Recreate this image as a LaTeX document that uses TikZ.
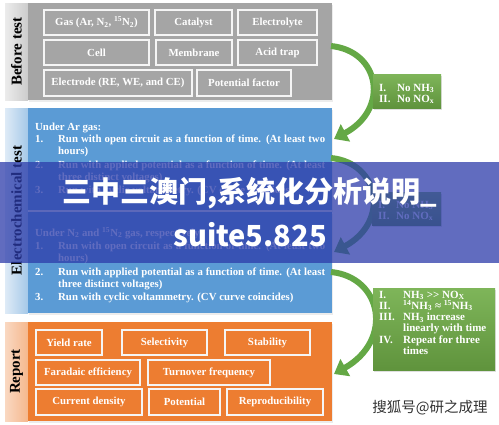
\documentclass[tikz,border=0pt]{standalone}
\usepackage{fontspec}
\setmainfont{Liberation Serif}
\newfontfamily\cjk{Noto Sans CJK SC}
\usetikzlibrary{arrows.meta,shadows,calc}
\definecolor{secgray}{HTML}{A5A5A5}
\definecolor{secblue}{HTML}{5B9BD5}
\definecolor{secorange}{HTML}{ED7D31}
\definecolor{cgreen}{HTML}{70AD47}
\definecolor{agreen}{HTML}{64A845}
\definecolor{bannerblue}{RGB}{45,60,170}
\newcommand\ibx[6]{\node[ibox, minimum width={(#4-#2)*1pt}, minimum height={(#5-#3)*1pt}] (#1) at ({(#2+#4)/2},{(#3+#5)/2}) {#6};}
\begin{document}
\begin{tikzpicture}[x=1pt,y=-1pt,
  sec/.style={anchor=north west, inner sep=0, outer sep=0, drop shadow={opacity=0.15,shadow xshift=0.5pt,shadow yshift=-1.5pt}},
  tab/.style={anchor=north west, inner sep=0, outer sep=0},
  tablabel/.style={rotate=90, font=\fontsize{15}{15}\selectfont\bfseries, text=black},
  ibox/.style={draw=white!92!gray, line width=1.2pt, text=white, font=\fontsize{10.8}{12}\selectfont\bfseries, inner sep=0},
  btxt/.style={anchor=base west, text=white, font=\fontsize{10.8}{12}\selectfont\bfseries, inner sep=0},
  callout/.style={anchor=north west, inner sep=0, top color=cgreen!90!white, bottom color=cgreen!85!black, drop shadow={opacity=0.25,shadow xshift=1pt,shadow yshift=-1.5pt}},
  ctxt/.style={anchor=base west, text=white, font=\fontsize{11}{11}\selectfont\bfseries, inner sep=0},
  garrow/.style={draw=agreen, line width=6pt, -{Triangle[length=13pt,width=19pt]}},
]
\useasboundingbox (0,0) rectangle (499,424);
\fill[white] (0,0) rectangle (499,424);

% ---------- Before test ----------
\node[tab, minimum width=23pt, minimum height=97pt, left color=gray!15, right color=gray!40] (tab1) at (5,3) {};
\node[sec, fill=secgray, minimum width=304pt, minimum height=97pt] (before) at (28,3) {};
\node[tablabel] (lab1) at (tab1.center) {Before test};
\ibx{gas}{44}{10}{149}{35}{Gas (Ar, N\textsubscript{2}, \textsuperscript{15}N\textsubscript{2})}
\ibx{cat}{155}{10}{232}{35}{Catalyst}
\ibx{ely}{238}{10}{317}{35}{Electrolyte}
\ibx{cell}{44}{40}{149}{65}{Cell}
\ibx{mem}{156}{40}{232}{65}{Membrane}
\ibx{acid}{238}{40}{317}{65}{Acid trap}
\ibx{elec}{44}{70}{192}{96}{Electrode (RE, WE, and CE)}
\ibx{pot}{197}{70}{291}{96}{Potential factor}

% ---------- Electrochemical test ----------
\node[tab, minimum width=23pt, minimum height=205pt, left color=secblue!20, right color=secblue!55] (tab2) at (5,108) {};
\node[sec, fill=secblue, minimum width=304pt, minimum height=102pt] (echA) at (28,108) {};
\node[sec, fill=secblue, minimum width=304pt, minimum height=101pt] (echB) at (28,212) {};
\node[tablabel] (lab2) at (tab2.center) {Electrochemical test};

\node[btxt] (a0) at (35,130) {Under Ar gas:};
\node[btxt] (a1n) at (35,142) {1.};
\node[btxt] (a1) at (58,142) {\makebox[267pt][s]{Run with open circuit as a function of time. (At least two}};
\node[btxt] (a1b) at (58,154) {hours)};
\node[btxt] (a2n) at (35,168) {2.};
\node[btxt] (a2) at (58,168) {\makebox[267pt][s]{Run with applied potential as a function of time. (At least}};
\node[btxt] (a2b) at (58,180) {three distinct voltages)};
\node[btxt] (a3n) at (35,193) {3.};
\node[btxt] (a3) at (58,193) {Run with cyclic voltammetry. (CV curve coincides)};

\node[btxt] (b0) at (35,236) {Under N\textsubscript{2} and \textsuperscript{15}N\textsubscript{2} gas, respectively:};
\node[btxt] (b1n) at (35,249) {1.};
\node[btxt] (b1) at (58,249) {\makebox[267pt][s]{Run with open circuit as a function of time. (At least two}};
\node[btxt] (b1b) at (58,261) {hours)};
\node[btxt] (b2n) at (35,275) {2.};
\node[btxt] (b2) at (58,275) {\makebox[267pt][s]{Run with applied potential as a function of time. (At least}};
\node[btxt] (b2b) at (58,287) {three distinct voltages)};
\node[btxt] (b3n) at (35,300) {3.};
\node[btxt] (b3) at (58,300) {Run with cyclic voltammetry. (CV curve coincides)};

% ---------- Report ----------
\node[tab, minimum width=23pt, minimum height=99pt, left color=secorange!30, right color=secorange!55] (tab3) at (5,322) {};
\node[sec, fill=secorange, minimum width=304pt, minimum height=99pt] (report) at (28,322) {};
\node[tablabel] (lab3) at (tab3.center) {Report};
\ibx{yield}{36}{330}{102}{355}{Yield rate}
\ibx{selec}{122}{330}{207}{355}{Selectivity}
\ibx{stab}{225}{330}{310}{355}{Stability}
\ibx{fara}{36}{360}{140}{385}{Faradaic efficiency}
\ibx{turn}{148}{360}{270}{385}{Turnover frequency}
\ibx{curr}{36}{389}{142}{415}{Current density}
\ibx{potl}{149}{389}{220}{415}{Potential}
\ibx{repro}{227}{389}{323}{415}{Reproducibility}

% ---------- arrows ----------
\coordinate (a1s) at (331,46);  \coordinate (a1t) at (334,139);
\coordinate (a2s) at (331,158); \coordinate (a2t) at (334,252);
\coordinate (a3s) at (331,272); \coordinate (a3t) at (334,374);
\draw[garrow] (a1s) .. controls (380,51) and (390,109) .. (a1t);
\draw[garrow] (a2s) .. controls (380,163) and (390,222) .. (a2t);
\draw[garrow] (a3s) .. controls (382,277) and (394,340) .. (a3t);

% ---------- callouts ----------
\node[callout, minimum width=68pt, minimum height=34pt] (c1) at (373,74) {};
\node[ctxt] (c1a) at (379,91) {I.};
\node[ctxt] (c1b) at (397,91) {No NH\textsubscript{3}};
\node[ctxt] (c1c) at (379,102) {II.};
\node[ctxt] (c1d) at (397,102) {No NO\textsubscript{x}};

\node[callout, minimum width=69pt, minimum height=33pt] (c2) at (372,192) {};
\node[ctxt] (c2a) at (378,208) {I.};
\node[ctxt] (c2b) at (396,208) {No NH\textsubscript{3}};
\node[ctxt] (c2c) at (378,219) {II.};
\node[ctxt] (c2d) at (396,219) {No NO\textsubscript{x}};

\node[callout, minimum width=122pt, minimum height=82pt] (c3) at (373,288) {};
\node[ctxt] (c3a) at (379,298) {I.};
\node[ctxt] (c3b) at (403,298) {NH\textsubscript{3} >\kern0pt> NO\textsubscript{X}};
\node[ctxt] (c3c) at (379,309.3) {II.};
\node[ctxt] (c3d) at (403,309.3) {\textsuperscript{14}NH\textsubscript{3} ≈ \textsuperscript{15}NH\textsubscript{3}};
\node[ctxt] (c3e) at (379,320.6) {III.};
\node[ctxt] (c3f) at (403,320.6) {NH\textsubscript{3} increase};
\node[ctxt] (c3g) at (403,331.9) {linearly with time};
\node[ctxt] (c3h) at (379,343.2) {IV.};
\node[ctxt] (c3i) at (403,343.2) {Repeat for three};
\node[ctxt] (c3j) at (403,354.5) {times};

% ---------- overlay banner ----------
\fill[bannerblue, opacity=0.75] (0,162) rectangle (499,263);
\node[text=white, font=\cjk\bfseries\fontsize{29}{29}\selectfont, inner sep=0] (ban1) at (250,193) {三中三澳门,系统化分析说明\symbol{"5F}};
\node[text=white, font=\cjk\bfseries\fontsize{29}{29}\selectfont, inner sep=0] (ban2) at (250,235) {suite5.825};

% ---------- watermark ----------
\node[text=black!80, font=\cjk\fontsize{14.5}{14.5}\selectfont, inner sep=0] (wm) at (430,408) {搜狐号@研之成理};
\end{tikzpicture}
\end{document}
